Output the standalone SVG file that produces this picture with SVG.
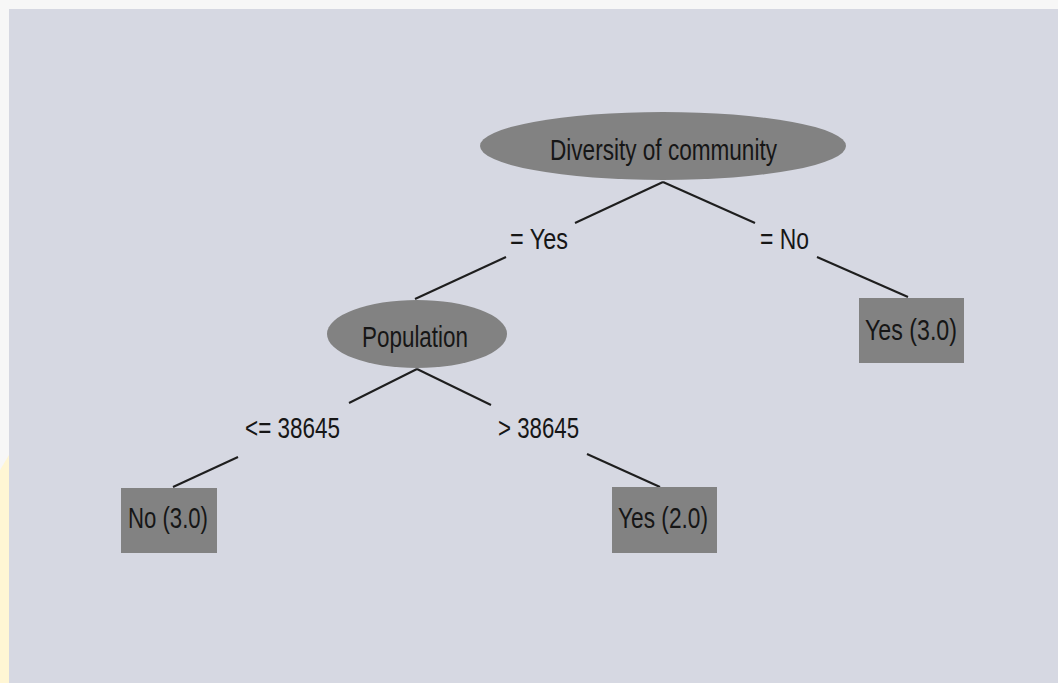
<svg xmlns="http://www.w3.org/2000/svg" width="1058" height="683" viewBox="0 0 1058 683">
  <style>
    .node { fill: #828282; }
    .edge { stroke: #1e1e1e; stroke-width: 2; fill: none; }
    .lbl { font-family: "Liberation Sans Narrow", "Liberation Sans", Arial, sans-serif; font-size: 30px; fill: #161616; }
  </style>
  <!-- canvas -->
  <rect x="0" y="0" width="1058" height="683" fill="#f7f7f7"/>
  <polygon points="0,470 9,455 9,683 0,683" fill="#fff6d4"/>
  <rect x="9" y="9" width="1049" height="674" fill="#d6d8e2"/>

  <!-- connectors and their labels -->
  <g id="edges">
    <line class="edge" x1="663" y1="182" x2="575" y2="223"/>
    <line class="edge" x1="663" y1="182" x2="755" y2="223"/>
    <line class="edge" x1="506" y1="257" x2="415" y2="299"/>
    <line class="edge" x1="817" y1="257" x2="908" y2="297"/>
    <line class="edge" x1="417" y1="369" x2="349" y2="403"/>
    <line class="edge" x1="417" y1="369" x2="491" y2="405"/>
    <line class="edge" x1="238" y1="457" x2="173" y2="487"/>
    <line class="edge" x1="587" y1="454" x2="660" y2="487"/>
    <text class="lbl" x="510" y="249" textLength="58" lengthAdjust="spacingAndGlyphs">= Yes</text>
    <text class="lbl" x="760" y="249" textLength="49" lengthAdjust="spacingAndGlyphs">= No</text>
    <text class="lbl" x="245" y="438" textLength="95" lengthAdjust="spacingAndGlyphs">&lt;= 38645</text>
    <text class="lbl" x="498" y="438" textLength="81" lengthAdjust="spacingAndGlyphs">&gt; 38645</text>
  </g>

  <g id="node-diversity">
    <ellipse class="node" cx="663" cy="146" rx="183" ry="34"/>
    <text class="lbl" x="550" y="160" textLength="227" lengthAdjust="spacingAndGlyphs">Diversity of community</text>
  </g>

  <g id="node-population">
    <ellipse class="node" cx="417" cy="334" rx="90" ry="34"/>
    <text class="lbl" x="362" y="347" textLength="106" lengthAdjust="spacingAndGlyphs">Population</text>
  </g>

  <g id="leaf-yes-3">
    <rect class="node" x="859" y="298" width="105" height="65"/>
    <text class="lbl" x="865" y="340" textLength="92" lengthAdjust="spacingAndGlyphs">Yes (3.0)</text>
  </g>

  <g id="leaf-no-3">
    <rect class="node" x="121" y="488" width="96" height="65"/>
    <text class="lbl" x="128" y="528" textLength="80" lengthAdjust="spacingAndGlyphs">No (3.0)</text>
  </g>

  <g id="leaf-yes-2">
    <rect class="node" x="612" y="487" width="105" height="66"/>
    <text class="lbl" x="618" y="528" textLength="90" lengthAdjust="spacingAndGlyphs">Yes (2.0)</text>
  </g>
</svg>
